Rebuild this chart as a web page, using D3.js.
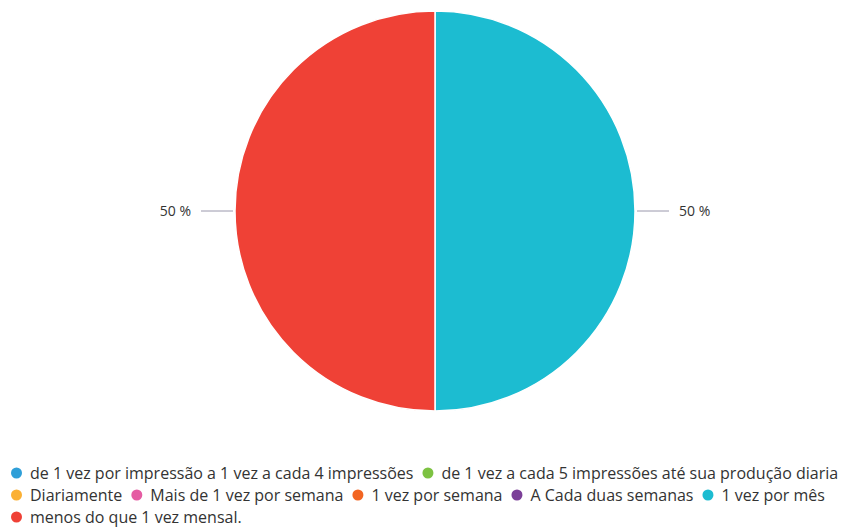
<!DOCTYPE html>
<html>
<head>
<meta charset="utf-8">
<script src="https://cdn.jsdelivr.net/npm/d3@7"></script>
<style>
  body { margin: 0; background: #fff; }
  svg { display: block; font-family: "Open Sans", "DejaVu Sans", sans-serif; }
</style>
</head>
<body>
<svg id="chart" width="859" height="529"></svg>
<script>
// chart data
const categories = [
  "de 1 vez por impressão a 1 vez a cada 4 impressões",
  "de 1 vez a cada 5 impressões até sua produção diaria",
  "Diariamente",
  "Mais de 1 vez por semana",
  "1 vez por semana",
  "A Cada duas semanas",
  "1 vez por mês",
  "menos do que 1 vez mensal."
];
const values = [0, 0, 0, 0, 0, 0, 1, 1];
const colors = ["#2f9fd8", "#7dc242", "#fbb034", "#e55ca3", "#f26522", "#7b3f98", "#1cbcd1", "#ef4136"];

const svg = d3.select("#chart");
const cx = 435, cy = 211, radius = 200;

const total = d3.sum(values);
const pie = d3.pie().sort(null).value(d => d.value);
const arcs = pie(categories.map((c, i) => ({ name: c, value: values[i], color: colors[i] })));
const arc = d3.arc().innerRadius(0).outerRadius(radius);

const g = svg.append("g").attr("transform", `translate(${cx},${cy})`);

g.selectAll("path")
  .data(arcs.filter(d => d.data.value > 0))
  .enter().append("path")
  .attr("d", arc)
  .attr("fill", d => d.data.color)
  .attr("stroke", "#fff")
  .attr("stroke-width", 1.5);

// data labels with connectors
arcs.filter(d => d.data.value > 0).forEach(d => {
  const mid = (d.startAngle + d.endAngle) / 2;
  const side = Math.sin(mid) >= 0 ? 1 : -1;
  const y = -Math.cos(mid) * radius;
  const x0 = Math.sin(mid) * (radius + 2);
  const x1 = side * (radius + 34);
  g.append("line")
    .attr("x1", x0).attr("y1", y).attr("x2", x1).attr("y2", y)
    .attr("stroke", "#9a98ac").attr("stroke-width", 1);
  g.append("text")
    .attr("x", x1 + side * 10)
    .attr("y", y)
    .attr("dy", "0.35em")
    .attr("text-anchor", side > 0 ? "start" : "end")
    .attr("font-size", 14)
    .attr("fill", "#333")
    .text(Math.round(d.data.value / total * 100) + " %");
});

// legend, flowing left to right and wrapping
const legend = svg.append("g");
const maxW = 859;
let lx = 11, ly = 473;
const lineH = 22;
categories.forEach((c, i) => {
  const item = legend.append("g");
  item.append("circle").attr("r", 5.5).attr("cx", 5.5).attr("cy", 0).attr("fill", colors[i]);
  const t = item.append("text")
    .attr("x", 19).attr("y", 0).attr("dy", "0.35em")
    .attr("font-size", 16).attr("fill", "#333")
    .text(c);
  const w = 19 + t.node().getComputedTextLength();
  if (lx + w > maxW && lx > 11) { lx = 11; ly += lineH; }
  item.attr("transform", `translate(${lx},${ly})`);
  lx += w + 9;
});
</script>
</body>
</html>
